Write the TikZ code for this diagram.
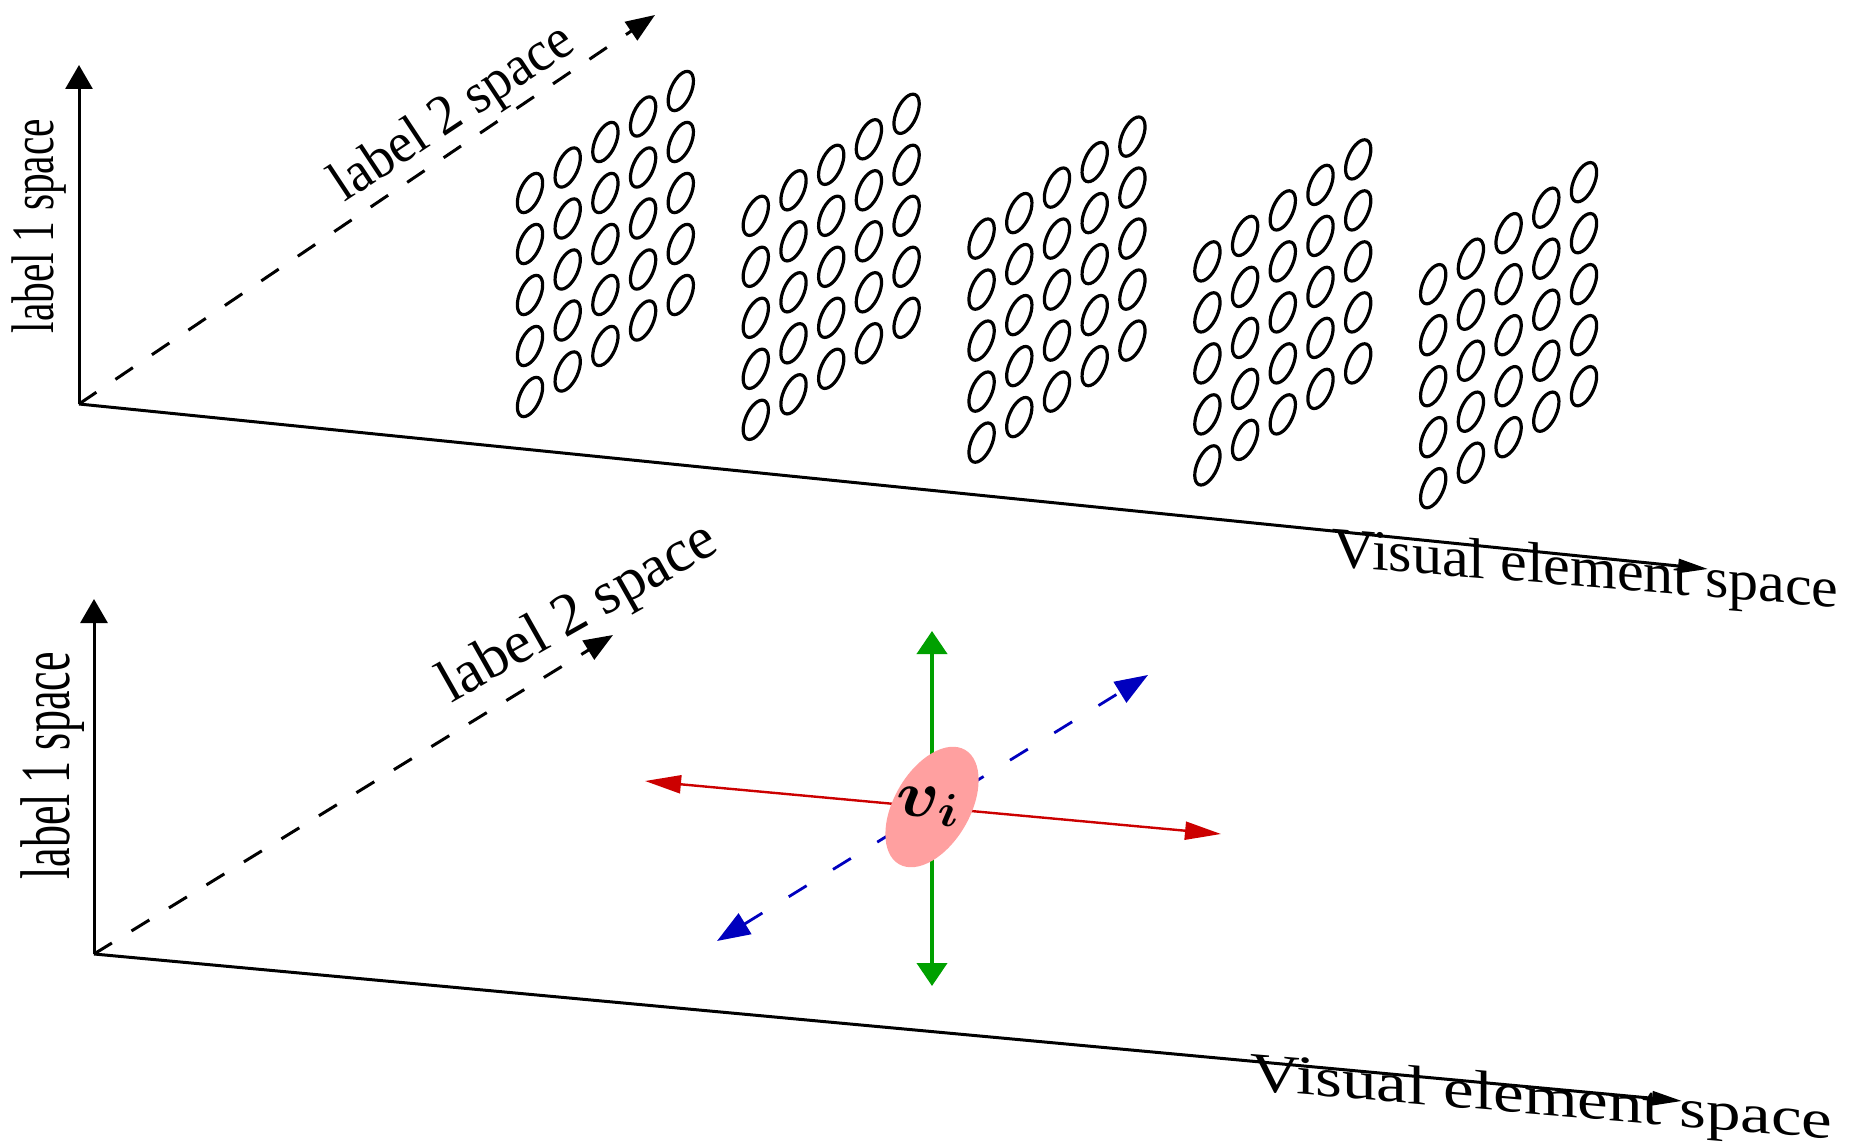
\RequirePackage{fix-cm}
\documentclass[tikz,border=0pt]{standalone}
\usepackage{fontspec}
\setmainfont{Liberation Serif}
\usetikzlibrary{arrows.meta,shapes.geometric}
\definecolor{vecred}{RGB}{204,0,0}
\definecolor{vecgreen}{RGB}{0,160,0}
\definecolor{vecblue}{RGB}{0,0,190}
\definecolor{elemfill}{RGB}{255,160,160}
\tikzset{
  axisline/.style={line width=1.5pt, black},
  upaxis/.style={axisline, -{Triangle[length=12pt,width=13.5pt]}},
  depthaxis/.style={axisline, dash pattern=on 10.5pt off 11.5pt, -{Triangle[length=14.5pt,width=11pt]}},
  flataxis/.style={axisline, -{Triangle[length=15pt,width=7pt]}},
  axislabel/.style={inner sep=0pt, text=black},
  cell/.style={line width=1.6pt, black},
  redvec/.style={vecred, line width=1.2pt, {Triangle[length=18pt,width=9pt]}-{Triangle[length=18pt,width=9pt]}},
  greenvec/.style={vecgreen, line width=2pt, {Triangle[length=11.5pt,width=15pt]}-{Triangle[length=11.5pt,width=15pt]}},
  bluevec/.style={vecblue, line width=1.4pt, dash pattern=on 10.5pt off 15.5pt, {Triangle[length=16.5pt,width=12pt]}-{Triangle[length=16.5pt,width=12pt]}},
  elemstyle/.style={ellipse, fill=elemfill, draw=none, inner sep=0pt, minimum width=38pt, minimum height=66pt},
}
\begin{document}
\begin{tikzpicture}[x=0.5pt, y=-0.5pt]
\useasboundingbox (0,0) rectangle (1849,1145);
\fill[white] (0,0) rectangle (1849,1145);

% ---------- upper panel: axes ----------
\coordinate (o1) at (79,404);
\coordinate (v1) at (79,65);
\coordinate (d1) at (655,15);
\coordinate (h1) at (1708,569);
\draw[upaxis] (o1) -- (v1);
\draw[depthaxis] (o1) -- (d1);
\draw[flataxis] (o1) -- (h1);

\node[axislabel, anchor=base, rotate=90, yscale=1.45, font=\fontsize{20.75}{24}\selectfont] (t1) at (54,226) {label 1 space};
\node[axislabel, anchor=base, rotate=33.5, yscale=1.05, font=\fontsize{27}{32}\selectfont] (t2) at (461,126) {label 2 space};
\node[axislabel, anchor=base west, yslant=-0.082, yscale=0.95, font=\fontsize{30}{34}\selectfont] (t3) at (1332,566) {Visual element space};

% ---------- upper panel: five sheared 5x5 grids of elements ----------
\foreach \g in {0,...,4}{
  \foreach \i in {0,...,4}{
    \foreach \j in {0,...,4}{
      \pgfmathsetmacro\ex{530 + 225.8*\g + 37.7*\i}
      \pgfmathsetmacro\ey{397 + 22.8*\g - 25.5*\i - 51*\j}
      \draw[cell, rotate around={-24:(\ex,\ey)}] (\ex,\ey) ellipse [x radius=10.2, y radius=21];
    }
  }
}

% ---------- lower panel: axes ----------
\coordinate (o2) at (94,954);
\coordinate (v2) at (94,599);
\coordinate (d2) at (613,635);
\coordinate (h2) at (1682,1101);
\draw[upaxis] (o2) -- (v2);
\draw[depthaxis] (o2) -- (d2);
\draw[flataxis] (o2) -- (h2);

\node[axislabel, anchor=base, rotate=90, yscale=1.6, font=\fontsize{22}{26}\selectfont] (b1) at (69,766) {label 1 space};
\node[axislabel, anchor=base, rotate=29.5, yscale=1.0, font=\fontsize{30}{35}\selectfont] (b2) at (586,627) {label 2 space};
\node[axislabel, anchor=base west, yslant=-0.084, yscale=0.8, font=\fontsize{34.5}{40}\selectfont] (b3) at (1250,1090) {Visual element space};

% ---------- lower panel: one element and its three directions ----------
\coordinate (gu) at (932,631);
\coordinate (gd) at (932,986);
\coordinate (rl) at (645,781);
\coordinate (rr) at (1221,834);
\coordinate (bl) at (717,941);
\coordinate (bu) at (1148,675);
\draw[redvec] (rl) -- (rr);
\draw[greenvec] (gd) -- (gu);
\draw[bluevec] (bl) -- (bu);
\node[elemstyle, rotate=-30] (elem) at (932,807) {};
\node[inner sep=0pt, xscale=1.1, font=\fontsize{33}{38}\selectfont\boldmath] (vi) at (928,807) {$v_i$};
\end{tikzpicture}
\end{document}
